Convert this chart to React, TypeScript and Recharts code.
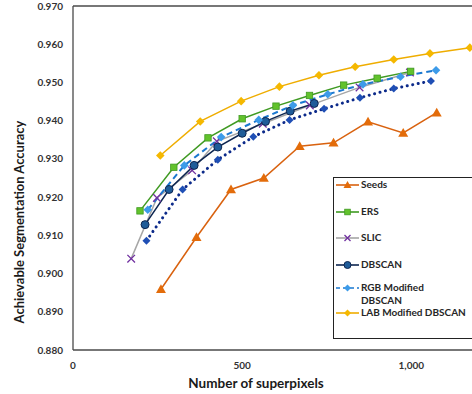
import { LineChart, Line, XAxis, YAxis, ReferenceLine } from 'recharts';

const seedsX = [260, 365, 467, 564, 670, 770, 872, 976, 1075];
const seedsY = [0.8959, 0.9095, 0.922, 0.925, 0.9333, 0.9342, 0.9397, 0.9368, 0.9421];

const ersX = [198, 298, 399, 500, 600, 699, 800, 899, 998];
const ersY = [0.9164, 0.9278, 0.9355, 0.9405, 0.9438, 0.9466, 0.9493, 0.9511, 0.9529];

const slicX = [172, 248, 352, 425, 561, 700, 847, 996];
const slicY = [0.9039, 0.9198, 0.927, 0.9346, 0.9392, 0.944, 0.9487, 0.9526];

const dbscanX = [213, 284, 358, 428, 500, 569, 642, 713];
const dbscanY = [0.9128, 0.922, 0.9283, 0.9331, 0.9367, 0.9398, 0.9425, 0.9445];

const rgbX = [221, 329, 438, 549, 650, 753, 857, 968, 1073];
const rgbY = [0.9167, 0.9283, 0.9357, 0.9402, 0.944, 0.9469, 0.9495, 0.9515, 0.9532];

const dottedX = [217, 324, 428, 533, 640, 742, 848, 948, 1058];
const dottedY = [0.9086, 0.922, 0.9298, 0.9358, 0.9402, 0.9431, 0.946, 0.9484, 0.9504];

const labX = [258, 376, 497, 610, 727, 834, 948, 1055, 1173];
const labY = [0.9309, 0.9398, 0.9451, 0.9489, 0.9519, 0.9541, 0.956, 0.9576, 0.9591];

const yTicks = [0.88, 0.89, 0.9, 0.91, 0.92, 0.93, 0.94, 0.95, 0.96, 0.97];
const xTicks = [0, 500, 1000];

const zip = (xs: number[], ys: number[]) => xs.map((x, i) => ({ x, y: ys[i] }));

const FONT = 'Lato, "Open Sans", sans-serif';

type DotProps = { cx?: number; cy?: number; index?: number };

const triangle = (color: string, s = 5) => ({ cx = 0, cy = 0, index }: DotProps) => (
  <path key={index} d={`M${cx},${cy - s}L${cx + s},${cy + s * 0.75}L${cx - s},${cy + s * 0.75}Z`} fill={color} />
);
const square = (color: string, border: string, s = 3.2) => ({ cx = 0, cy = 0, index }: DotProps) => (
  <rect key={index} x={cx - s} y={cy - s} width={s * 2} height={s * 2} fill={color} stroke={border} strokeWidth={0.8} />
);
const cross = (color: string, s = 3.8) => ({ cx = 0, cy = 0, index }: DotProps) => (
  <path key={index} d={`M${cx - s},${cy - s}L${cx + s},${cy + s}M${cx + s},${cy - s}L${cx - s},${cy + s}`} stroke={color} strokeWidth={1.3} />
);
const circle = (color: string, border: string, r = 4) => ({ cx = 0, cy = 0, index }: DotProps) => (
  <circle key={index} cx={cx} cy={cy} r={r} fill={color} stroke={border} strokeWidth={1} />
);
const diamond = (color: string, s = 4.5) => ({ cx = 0, cy = 0, index }: DotProps) => (
  <path key={index} d={`M${cx},${cy - s}L${cx + s},${cy}L${cx},${cy + s}L${cx - s},${cy}Z`} fill={color} />
);

const legendItems = [
  { name: 'Seeds', line: '#d9620f', dash: undefined, marker: triangle('#e36c0a', 4) },
  { name: 'ERS', line: '#3f9a22', dash: undefined, marker: square('#62c22c', '#3f9a22', 2.8) },
  { name: 'SLIC', line: '#a6a6a6', dash: undefined, marker: cross('#7030a0', 3) },
  { name: 'DBSCAN', line: '#0d2550', dash: undefined, marker: circle('#1f5c99', '#0d2550', 3.5) },
  { name: 'RGB Modified\nDBSCAN', line: '#1b78d0', dash: '4 3', marker: diamond('#3d9be9', 3.5) },
  { name: 'LAB Modified DBSCAN', line: '#efad00', dash: undefined, marker: diamond('#f5b800', 3.5) },
];

const tops = [0, 27, 53, 80, 103, 128];

function LegendBox() {
  return (
    <div
      style={{
        position: 'absolute',
        left: 333,
        top: 177,
        width: 150,
        height: 160,
        border: '1px solid #222',
        background: '#fff',
        fontFamily: FONT,
        fontSize: 10,
        fontWeight: 700,
        color: '#262626',
      }}
    >
      {legendItems.map((item, i) => {
        const M = item.marker;
        return (
          <div key={item.name} style={{ position: 'absolute', left: 1, top: tops[i], display: 'flex', alignItems: 'flex-start' }}>
            <svg width={25} height={14} style={{ flex: 'none' }}>
              <line x1={1} y1={7} x2={24} y2={7} stroke={item.line} strokeWidth={1.6} strokeDasharray={item.dash} />
              <M cx={12.5} cy={7} index={0} />
            </svg>
            <span style={{ whiteSpace: 'pre', lineHeight: '13px', marginLeft: 1 }}>{item.name}</span>
          </div>
        );
      })}
    </div>
  );
}

export default function App() {
  return (
    <div style={{ position: 'relative', width: 472, height: 394, overflow: 'hidden', background: '#fff' }}>
      <style>{'body{margin:0;overflow:hidden}'}</style>
      <LineChart width={490} height={394} margin={{ top: 6, right: 11, left: 0, bottom: 0 }}>
        <XAxis
          type="number"
          dataKey="x"
          domain={[0, 1200]}
          ticks={xTicks}
          allowDataOverflow
          tickFormatter={(v: number) => v.toLocaleString('en-US')}
          tick={{ fontSize: 10, fill: '#333', fontFamily: FONT, fontWeight: 700 }}
          tickLine={false}
          tickMargin={6}
          axisLine={{ stroke: '#4a4a4a', strokeWidth: 1.3 }}
          height={44}
          label={{
            content: () => (
              <text x={256} y={388} textAnchor="middle" fontFamily={FONT} fontWeight={700} fontSize={13.5} fill="#1a1a1a">
                Number of superpixels
              </text>
            ),
          }}
        />
        <YAxis
          type="number"
          domain={[0.88, 0.97]}
          ticks={yTicks}
          allowDataOverflow
          tickFormatter={(v: number) => v.toFixed(3)}
          tick={{ fontSize: 10, fill: '#333', fontFamily: FONT, fontWeight: 700 }}
          tickLine={false}
          tickMargin={4}
          axisLine={{ stroke: '#4a4a4a', strokeWidth: 1.3 }}
          width={73}
          label={{
            content: () => (
              <text
                x={24}
                y={222}
                transform="rotate(-90 24 222)"
                textAnchor="middle"
                fontFamily={FONT}
                fontWeight={700}
                fontSize={13}
                fill="#1a1a1a"
              >
                Achievable Segmentation Accuracy
              </text>
            ),
          }}
        />
        <ReferenceLine y={0.97} stroke="#4a4a4a" strokeWidth={1.3} />
        <Line type="linear" data={zip(seedsX, seedsY)} dataKey="y" name="Seeds" stroke="#d9620f" strokeWidth={1.5} dot={triangle('#e36c0a')} isAnimationActive={false} />
        <Line type="linear" data={zip(dottedX, dottedY)} dataKey="y" name="dotted" legendType="none" stroke="#0c2a8a" strokeWidth={3} strokeDasharray="0.1 5.5" strokeLinecap="round" dot={diamond('#1f4fb5', 4)} isAnimationActive={false} />
        <Line type="linear" data={zip(slicX, slicY)} dataKey="y" name="SLIC" stroke="#a6a6a6" strokeWidth={1.5} dot={cross('#7030a0')} isAnimationActive={false} />
        <Line type="linear" data={zip(dbscanX, dbscanY)} dataKey="y" name="DBSCAN" stroke="#0d2550" strokeWidth={1.5} dot={circle('#1f5c99', '#0d2550')} isAnimationActive={false} />
        <Line type="linear" data={zip(rgbX, rgbY)} dataKey="y" name="RGB Modified DBSCAN" stroke="#1b78d0" strokeWidth={2} strokeDasharray="6 4" dot={diamond('#3d9be9', 4.3)} isAnimationActive={false} />
        <Line type="linear" data={zip(ersX, ersY)} dataKey="y" name="ERS" stroke="#3f9a22" strokeWidth={1.5} dot={square('#62c22c', '#3f9a22')} isAnimationActive={false} />
        <Line type="linear" data={zip(labX, labY)} dataKey="y" name="LAB Modified DBSCAN" stroke="#efad00" strokeWidth={1.5} dot={diamond('#f5b800', 4.3)} isAnimationActive={false} />
      </LineChart>
      <LegendBox />
    </div>
  );
}
